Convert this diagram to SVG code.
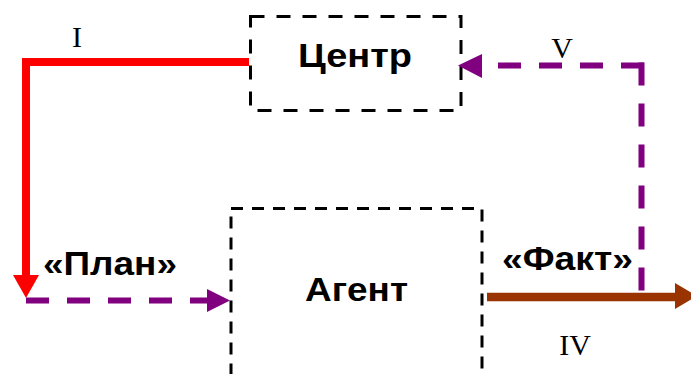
<svg xmlns="http://www.w3.org/2000/svg" width="691" height="374" viewBox="0 0 691 374">
<style>
.box{fill:none;stroke:#000;stroke-width:3}
.lbl{font-family:"Liberation Sans",Arial,sans-serif;font-weight:bold;font-size:34px;fill:#000;text-anchor:middle}
.rom{font-family:"Liberation Serif","Times New Roman",serif;font-size:30px;fill:#000;text-anchor:middle}
.pur{fill:none;stroke:#800080;stroke-width:6;stroke-dasharray:23 18}
</style>
<rect width="691" height="374" fill="#fff"/>
<g id="center">
<rect class="box" x="250.5" y="16.5" width="210.5" height="94" style="stroke-dasharray:14 12"/>
<text class="lbl" x="355" y="67" textLength="114" lengthAdjust="spacingAndGlyphs">Центр</text>
</g>
<g id="agent">
<rect class="box" x="231" y="208.5" width="251" height="200" style="stroke-dasharray:12 9"/>
<text class="lbl" x="356.5" y="301" textLength="103" lengthAdjust="spacingAndGlyphs">Агент</text>
</g>
<g id="connectors">
<path d="M249 62 H26 V277" fill="none" stroke="#f00" stroke-width="8"/>
<polygon points="13,275 39,275 26,298" fill="#f00"/>
<path class="pur" d="M26 300.5 H208"/>
<polygon points="207,289 230,300.5 207,312" fill="#800080"/>
<path class="pur" d="M644 65.5 H482"/>
<path class="pur" d="M641.5 62.5 V292"/>
<polygon points="482,54 458,65.5 482,78" fill="#800080"/>
<path d="M487 297 H678" fill="none" stroke="#993300" stroke-width="8.5"/>
<polygon points="675,283 697,296 675,309" fill="#993300"/>
</g>
<g id="labels">
<text class="lbl" x="110" y="275" textLength="134" lengthAdjust="spacingAndGlyphs">«План»</text>
<text class="lbl" x="567.5" y="270" textLength="131" lengthAdjust="spacingAndGlyphs">«Факт»</text>
<text class="rom" x="77" y="47">I</text>
<text class="rom" x="562" y="58">V</text>
<text class="rom" x="575" y="355">IV</text>
</g>
</svg>
